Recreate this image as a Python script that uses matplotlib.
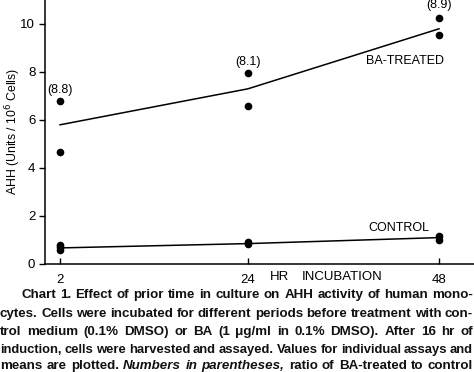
import matplotlib
matplotlib.use("Agg")
import matplotlib.pyplot as plt
import numpy as np

plt.rcParams['font.family'] = ['Liberation Sans', 'DejaVu Sans']

# ---- data ----
hours = [2, 24, 48]
ba_points_x = [2, 2, 24, 24, 48, 48]
ba_points_y = [6.8, 4.65, 7.97, 6.6, 10.26, 9.55]
ba_means = [5.8, 7.3, 9.8]
ctrl_points_x = [2, 2, 2, 24, 24, 48, 48]
ctrl_points_y = [0.8, 0.7, 0.6, 0.9, 0.82, 1.18, 1.02]
ctrl_means = [0.67, 0.85, 1.1]
ratios = ["(8.8)", "(8.1)", "(8.9)"]
yticks = [0, 2, 4, 6, 8, 10]

W, H = 474, 372
fig = plt.figure(figsize=(W / 100, H / 100), dpi=100)
ax = fig.add_axes([45 / W, 108 / H, 429 / W, 264 / H])

# the original axis is drawn slightly non-uniformly; piecewise-linear scale
_d = np.array([-100.0, 2.0, 24.0, 48.0, 150.0])
_p = np.array([60 - 102 * 188 / 22, 60.0, 248.0, 439.0, 439 + 102 * 191 / 24])
fwd = lambda v: np.interp(v, _d, _p)
inv = lambda v: np.interp(v, _p, _d)
ax.set_xscale('function', functions=(fwd, inv))

ax.plot(hours, ba_means, color='black', lw=1.1)
ax.plot(hours, ctrl_means, color='black', lw=1.1)
ax.plot(ba_points_x, ba_points_y, 'o', color='black', ms=4.5)
ax.plot(ctrl_points_x, ctrl_points_y, 'o', color='black', ms=4.5)

ax.set_ylim(0, 11)
ax.set_xlim(inv(45), inv(474))

for s in ['top', 'right']:
    ax.spines[s].set_visible(False)
for s in ['left', 'bottom']:
    ax.spines[s].set_linewidth(1.1)

ax.set_yticks(yticks)
ax.tick_params(axis='y', direction='out', length=4, width=1, labelsize=9.5, pad=3)
ax.set_xticks(hours)
ax.set_xticklabels([str(h) for h in hours])
ax.xaxis.set_minor_locator(matplotlib.ticker.NullLocator())
ax.tick_params(axis='x', direction='in', length=4, width=1, labelsize=9.5, pad=7)

fig.text(13 / W, 1 - 131 / H, 'AHH (Units / 10$^{6}$ Cells)', rotation=90,
         ha='center', va='center', fontsize=8.8)

# ratio labels
ax.text(2, 7.25, ratios[0], ha='center', va='center', fontsize=9)
ax.text(24, 8.43, ratios[1], ha='center', va='center', fontsize=9)
ax.text(48, 10.8, ratios[2], ha='center', va='center', fontsize=9)
ax.text(inv(444), 8.45, 'BA-TREATED', ha='right', va='center', fontsize=9)
ax.text(inv(429), 1.5, 'CONTROL', ha='right', va='center', fontsize=9)

# axis title positioned like tick labels
fig.text(270 / W, 1 - 277 / H, 'HR', ha='left', va='center', fontsize=9.5)
fig.text(302 / W, 1 - 277 / H, 'INCUBATION', ha='left', va='center', fontsize=9.5)

# ---- caption, justified ----
lines = [
    (21, "Chart 1. Effect of prior time in culture on AHH activity of human mono-"),
    (0, "cytes. Cells were incubated for different periods before treatment with con-"),
    (0, "trol medium (0.1% DMSO) or BA (1 \u03bcg/ml in 0.1% DMSO). After 16 hr of"),
    (0, "induction, cells were harvested and assayed. Values for individual assays and"),
    (0, "means are plotted. *Numbers *in *parentheses, ratio of BA-treated to control"),
]
line_y = [295, 314, 332, 350, 366]
right_edge = 473
fig.canvas.draw()
renderer = fig.canvas.get_renderer()


def place_line(xs, txt, yy, fs):
    words = txt.split(' ')
    items = []
    for w in words:
        style = 'normal'
        if w.startswith('*'):
            w = w[1:]
            style = 'italic'
        t = fig.text(0, 0, w, fontsize=fs, fontweight='bold', fontstyle=style,
                     ha='left', va='center', color='#111111')
        bb = t.get_window_extent(renderer)
        items.append((t, bb.width))
    total = sum(wd for _, wd in items)
    gap = (right_edge - xs - total) / (len(items) - 1)
    return items, gap


for (xs, txt), yy in zip(lines, line_y):
    fs = 9.6
    while True:
        items, gap = place_line(xs, txt, yy, fs)
        if gap >= 2.8 or fs < 8:
            break
        for t, _ in items:
            t.remove()
        fs -= 0.1
    x = xs
    for t, wd in items:
        t.set_position((x / W, 1 - yy / H))
        x += wd + gap

fig.savefig('out.png', dpi=100)
